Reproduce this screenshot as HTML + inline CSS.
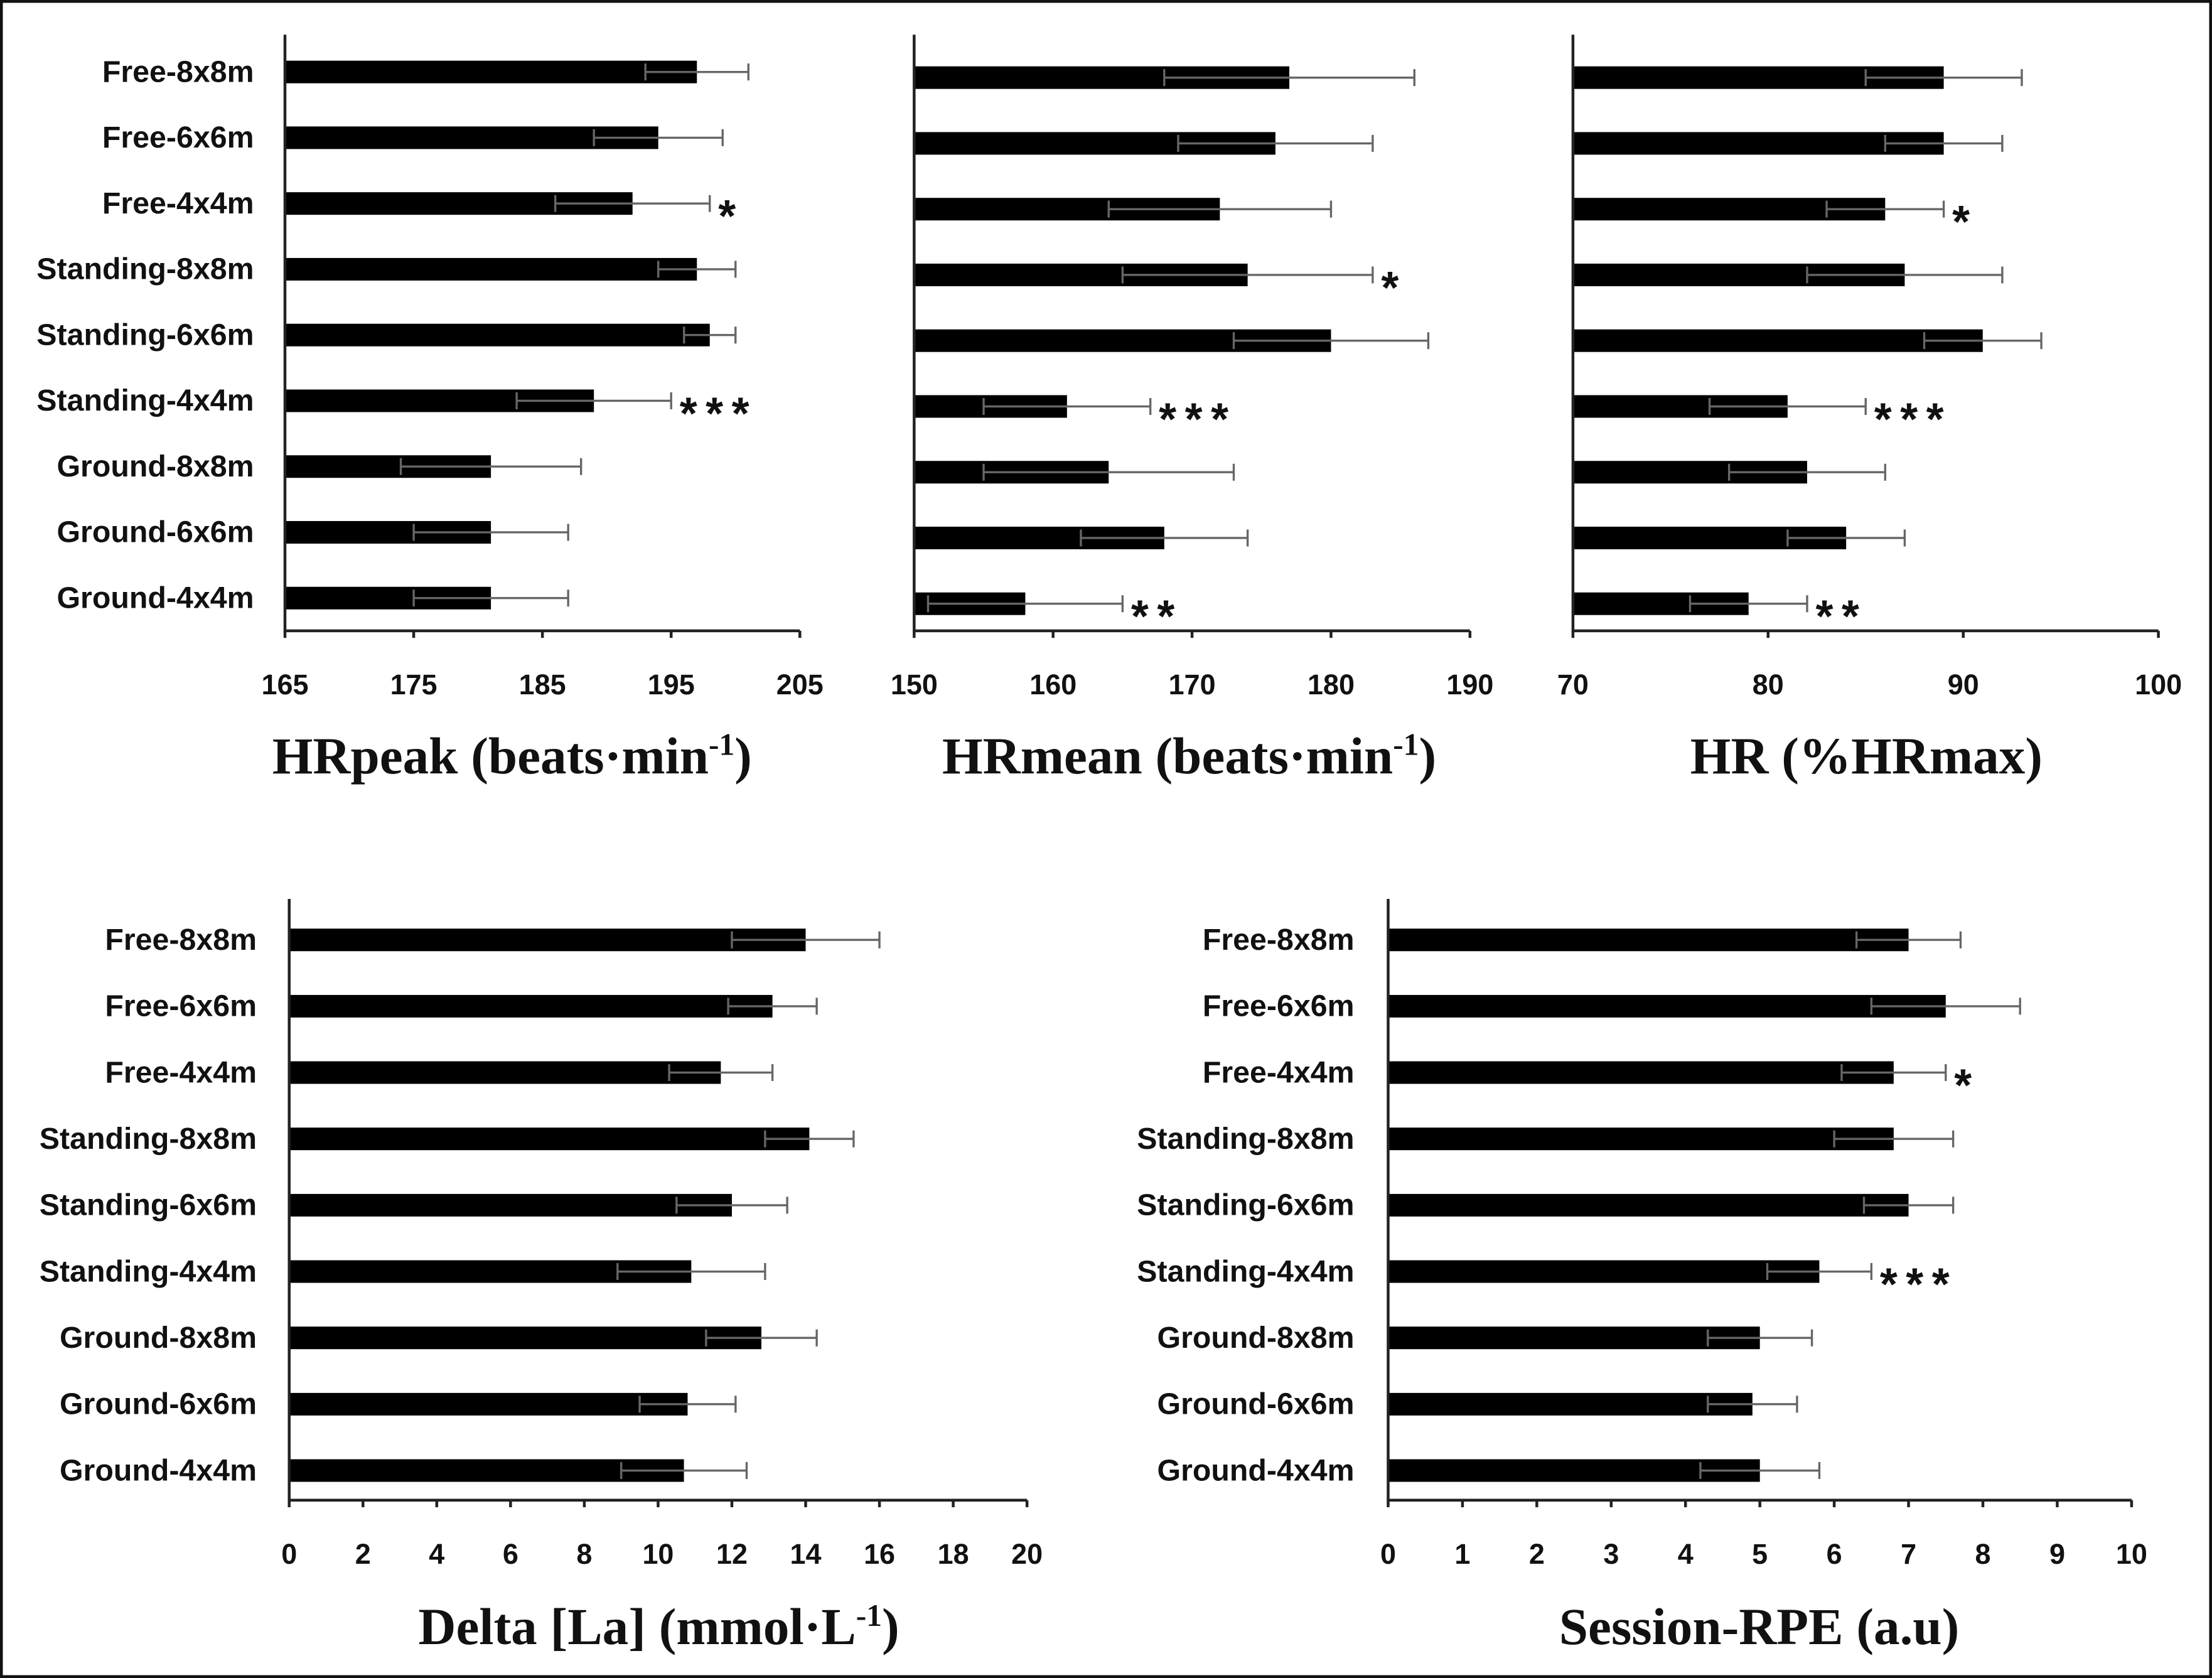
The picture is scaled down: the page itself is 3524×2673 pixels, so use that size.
<!DOCTYPE html>
<html><head><meta charset="utf-8"><style>
html,body{margin:0;padding:0;background:#fff;}
svg{display:block;}
.lab{font-family:"Liberation Sans",sans-serif;font-weight:bold;font-size:21.5px;fill:#111;}
.tick{font-family:"Liberation Sans",sans-serif;font-weight:bold;font-size:20px;fill:#111;}
.ttl{font-family:"Liberation Serif",serif;font-weight:bold;font-size:37px;fill:#111;}
.star{font-family:"Liberation Sans",sans-serif;font-weight:bold;font-size:32px;fill:#111;}
</style></head><body>
<svg id="fig" width="3524" height="2673" viewBox="0 0 1568 1189" preserveAspectRatio="none" xmlns="http://www.w3.org/2000/svg">
<rect x="1" y="1" width="1566" height="1187" fill="#fff" stroke="#111" stroke-width="2"/>
</svg>
<script>
const categories=["Free-8x8m","Free-6x6m","Free-4x4m","Standing-8x8m","Standing-6x6m","Standing-4x4m","Ground-8x8m","Ground-6x6m","Ground-4x4m"];
const hrPeak=[197,194,192,197,198,189,181,181,181];
const hrPeakErr=[4,5,6,3,2,6,7,6,6];
const hrMean=[177,176,172,174,180,161,164,168,158];
const hrMeanErr=[9,7,8,9,7,6,9,6,7];
const hrPct=[89,89,86,87,91,81,82,84,79];
const hrPctErr=[4,3,3,5,3,4,4,3,3];
const lactate=[14.0,13.1,11.7,14.1,12.0,10.9,12.8,10.8,10.7];
const lactateErr=[2.0,1.2,1.4,1.2,1.5,2.0,1.5,1.3,1.7];
const rpe=[7.0,7.5,6.8,6.8,7.0,5.8,5.0,4.9,5.0];
const rpeErr=[0.7,1.0,0.7,0.8,0.6,0.7,0.7,0.6,0.8];
const ticksPeak=[165,175,185,195,205];
const ticksMean=[150,160,170,180,190];
const ticksPct=[70,80,90,100];
const ticksLa=[0,2,4,6,8,10,12,14,16,18,20];
const ticksRpe=[0,1,2,3,4,5,6,7,8,9,10];
const starsPeak=["","","*","","","***","","",""];
const starsMean=["","","","*","","***","","","**"];
const starsPct=["","","*","","","***","","","**"];
const starsRpe=["","","*","","","***","","",""];

const svg=document.getElementById('fig');
const NS="http://www.w3.org/2000/svg";
function mk(tag,attrs,parent){const e=document.createElementNS(NS,tag);for(const k in attrs)e.setAttribute(k,attrs[k]);(parent||svg).appendChild(e);return e;}

function chart(cfg){
  const g=mk('g',{});
  
  
  const x=v=>cfg.x0+(v-cfg.min)/(cfg.max-cfg.min)*(cfg.x1-cfg.x0);
  const y=i=>cfg.y0+i*cfg.step;
  categories.forEach((c,i)=>{
    const t=mk('text',{x:cfg.labX,y:y(i)+7,'text-anchor':'end',class:'lab'},g);t.textContent=c;
    
    
    const v=cfg.vals[i],e=cfg.errs[i];
    const b=mk('rect',{x:x(cfg.min),y:y(i)-8,width:x(v)-x(cfg.min),height:16,fill:'#000'},g);
    
    
    const eb=mk('path',{d:`M${x(v-e)},${y(i)} H${x(v+e)} M${x(v-e)},${y(i)-6} V${y(i)+6} M${x(v+e)},${y(i)-6} V${y(i)+6}`,stroke:'#666','stroke-width':1.5,fill:'none'},g);
    
    
    if(cfg.stars&&cfg.stars[i]){
      const s=mk('text',{x:x(v+e)+6,y:y(i)+20,class:'star','letter-spacing':'6'},g);s.textContent=cfg.stars[i];
      
      
    }
  });
  const ax=mk('path',{d:`M${cfg.x0},${cfg.axisY-cfg.step*9-3} V${cfg.axisY} H${cfg.x1}`,stroke:'#222','stroke-width':2,fill:'none'},g);
  
  
  cfg.ticks.forEach(tv=>{
    mk('line',{x1:x(tv),x2:x(tv),y1:cfg.axisY,y2:cfg.axisY+5,stroke:'#222','stroke-width':2},g);
    const t=mk('text',{x:x(tv),y:cfg.axisY+45,'text-anchor':'middle',class:'tick'},g);t.textContent=tv;
    
    
  });
  const tt=mk('text',{x:cfg.titleX,y:cfg.titleY,'text-anchor':'middle',class:'ttl'},g);
  tt.innerHTML=cfg.title;
  
  
}
const sup1='<tspan dy="-13" font-size="22">-1</tspan><tspan dy="13">)</tspan>';
chart({name:'hrpeak-chart',vals:hrPeak,errs:hrPeakErr,ticks:ticksPeak,stars:starsPeak,min:165,max:205,x0:202,x1:567,y0:51,step:46.6,axisY:447,labX:180,title:'HRpeak (beats·min'+sup1,titleX:363,titleY:548});
chart({name:'hrmean-chart',vals:hrMean,errs:hrMeanErr,ticks:ticksMean,stars:starsMean,min:150,max:190,x0:648,x1:1042,y0:55,step:46.6,axisY:447,labX:-100,title:'HRmean (beats·min'+sup1,titleX:843,titleY:548});
chart({name:'hrpct-chart',vals:hrPct,errs:hrPctErr,ticks:ticksPct,stars:starsPct,min:70,max:100,x0:1115,x1:1530,y0:55,step:46.6,axisY:447,labX:-100,title:'HR (%HRmax)',titleX:1323,titleY:548});
chart({name:'lactate-chart',vals:lactate,errs:lactateErr,ticks:ticksLa,stars:null,min:0,max:20,x0:205,x1:728,y0:666,step:47,axisY:1063,labX:182,title:'Delta [La] (mmol·L'+sup1,titleX:467,titleY:1165});
chart({name:'rpe-chart',vals:rpe,errs:rpeErr,ticks:ticksRpe,stars:starsRpe,min:0,max:10,x0:984,x1:1511,y0:666,step:47,axisY:1063,labX:960,title:'Session-RPE (a.u)',titleX:1247,titleY:1165});
</script>
</body></html>
